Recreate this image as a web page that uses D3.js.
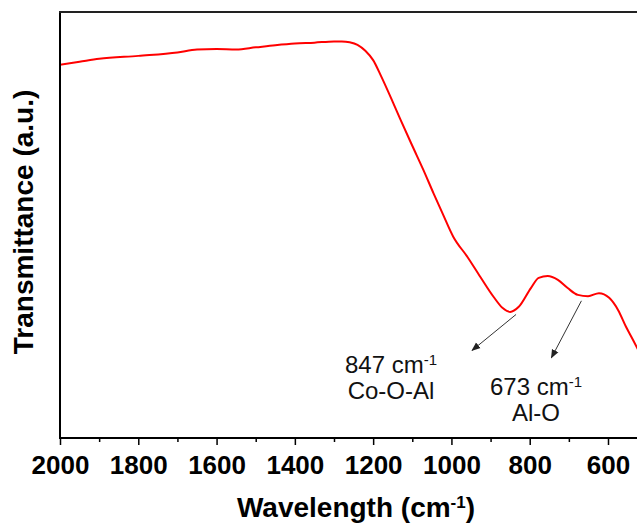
<!DOCTYPE html>
<html lang="en">
<head>
  <meta charset="UTF-8">
  <title>FTIR Transmittance</title>
  <script src="https://d3js.org/d3.v7.min.js"></script>
  <style>
    body { margin: 0; background: #fff; }
    svg { display: block; font-family: "Liberation Sans", Arial, sans-serif; }
    .axis path, .axis line { stroke: #000; }
    .axis text { fill: #000; font-weight: bold; font-size: 26px; }
  </style>
</head>
<body>
  <svg width="637" height="525"></svg>
  <script>
    const svgWidth = 637, svgHeight = 525;
    const margin = {left: 60, top: 12, bottom: 87};

    // wavenumber (cm-1)
    const wavenumber = [2000, 1950, 1900, 1800, 1700, 1650, 1600, 1550, 1500, 1450, 1400,
      1350, 1300, 1280, 1260, 1240, 1220, 1200, 1180, 1150, 1131, 1100, 1072, 1046, 1023, 995,
      959, 926, 892, 869, 850, 828, 797, 777, 754, 728, 703, 677, 651, 623, 597, 574,
      554, 536, 523];
    // transmittance (a.u.)
    const transmittance = [87.6, 88.3, 89.0, 89.7, 90.5, 91.2, 91.3, 91.2, 91.7, 92.2, 92.6,
      92.8, 93.1, 93.1, 92.9, 92.3, 90.9, 88.7, 85.0, 78.9, 74.9, 68.6, 63.0, 57.5, 52.8, 47.2,
      42.5, 37.8, 33.1, 30.5, 29.6, 30.8, 35.2, 37.6, 38.0, 37.1, 35.2, 33.6, 33.3, 34.0,
      32.9, 30.0, 26.1, 23.0, 20.7];

    const majorTicks = [2000, 1800, 1600, 1400, 1200, 1000, 800, 600];
    const minorTicks = [1900, 1700, 1500, 1300, 1100, 900, 700, 500];

    const data = wavenumber.map((w, i) => ({w: w, t: transmittance[i]}));

    const svg = d3.select("svg");
    const bottomY = svgHeight - margin.bottom;

    const xScale = d3.scaleLinear()
      .domain([2000, 600])
      .range([margin.left, 608]);

    const yScale = d3.scaleLinear()
      .domain([0, 100])
      .range([bottomY, margin.top]);

    svg.append("defs").append("clipPath").attr("id", "plotclip")
      .append("rect")
      .attr("x", margin.left).attr("y", margin.top)
      .attr("width", svgWidth - margin.left).attr("height", bottomY - margin.top);

    // curve
    const line = d3.line()
      .x(d => xScale(d.w))
      .y(d => yScale(d.t))
      .curve(d3.curveMonotoneX);

    svg.append("path")
      .datum(data)
      .attr("clip-path", "url(#plotclip)")
      .attr("fill", "none")
      .attr("stroke", "#ff0000")
      .attr("stroke-width", 2)
      .attr("d", line);

    // minor ticks
    svg.append("g")
      .attr("class", "axis")
      .attr("transform", `translate(0,${bottomY})`)
      .call(d3.axisBottom(xScale).tickValues(minorTicks).tickSize(4).tickSizeOuter(0).tickFormat(""))
      .call(g => g.select(".domain").remove())
      .selectAll("line").attr("stroke-width", 1.5);

    // major ticks + labels
    const xAxis = svg.append("g")
      .attr("class", "axis")
      .attr("transform", `translate(0,${bottomY})`)
      .call(d3.axisBottom(xScale).tickValues(majorTicks).tickSize(7).tickSizeOuter(0)
        .tickPadding(11).tickFormat(d3.format("d")));
    xAxis.select(".domain").remove();
    xAxis.selectAll("line").attr("stroke-width", 1.5);

    // frame: bottom, left, top
    svg.append("line")
      .attr("x1", margin.left).attr("x2", svgWidth)
      .attr("y1", bottomY).attr("y2", bottomY)
      .attr("stroke", "#000").attr("stroke-width", 2);
    svg.append("line")
      .attr("x1", margin.left).attr("x2", margin.left)
      .attr("y1", margin.top).attr("y2", bottomY + 1)
      .attr("stroke", "#000").attr("stroke-width", 2);
    svg.append("line")
      .attr("x1", margin.left - 1).attr("x2", svgWidth)
      .attr("y1", margin.top).attr("y2", margin.top)
      .attr("stroke", "#222").attr("stroke-width", 2);

    // axis titles
    const xTitle = svg.append("text")
      .attr("x", 356).attr("y", 517)
      .attr("text-anchor", "middle")
      .attr("font-weight", "bold").attr("font-size", "28px")
      .text("Wavelength (cm");
    xTitle.append("tspan").attr("baseline-shift", "super").attr("font-size", "17px").text("-1");
    xTitle.append("tspan").text(")");

    svg.append("text")
      .attr("transform", "translate(33,222) rotate(-90)")
      .attr("text-anchor", "middle")
      .attr("font-weight", "bold").attr("font-size", "28px")
      .text("Transmittance (a.u.)");

    // annotations
    svg.append("defs").append("marker")
      .attr("id", "arrowhead")
      .attr("viewBox", "0 0 10 10")
      .attr("refX", 9).attr("refY", 5)
      .attr("markerWidth", 9).attr("markerHeight", 9)
      .attr("markerUnits", "userSpaceOnUse")
      .attr("orient", "auto")
      .append("path")
      .attr("d", "M0,1 L10,5 L0,9 Z")
      .attr("fill", "#222");

    const notes = [
      {from: [840, 29.0], dx: -44, dy: 36, tx: 391, ty: 372.7, num: "847", label: "Co-O-Al"},
      {from: [673, 32.2], dx: -30, dy: 57, tx: 536, ty: 395, num: "673", label: "Al-O"}
    ];

    notes.forEach(n => {
      const x0 = xScale(n.from[0]) + 2, y0 = yScale(n.from[1]);
      svg.append("line")
        .attr("x1", x0).attr("y1", y0)
        .attr("x2", x0 + n.dx).attr("y2", y0 + n.dy)
        .attr("stroke", "#333").attr("stroke-width", 1)
        .attr("marker-end", "url(#arrowhead)");
      const t = svg.append("text")
        .attr("x", n.tx).attr("y", n.ty)
        .attr("text-anchor", "middle")
        .attr("font-size", "24px").attr("fill", "#111")
        .text(n.num + " cm");
      t.append("tspan").attr("baseline-shift", "super").attr("font-size", "15px").text("-1");
      svg.append("text")
        .attr("x", n.tx).attr("y", n.ty + 26)
        .attr("text-anchor", "middle")
        .attr("font-size", "24px").attr("fill", "#111")
        .text(n.label);
    });
  </script>
</body>
</html>
